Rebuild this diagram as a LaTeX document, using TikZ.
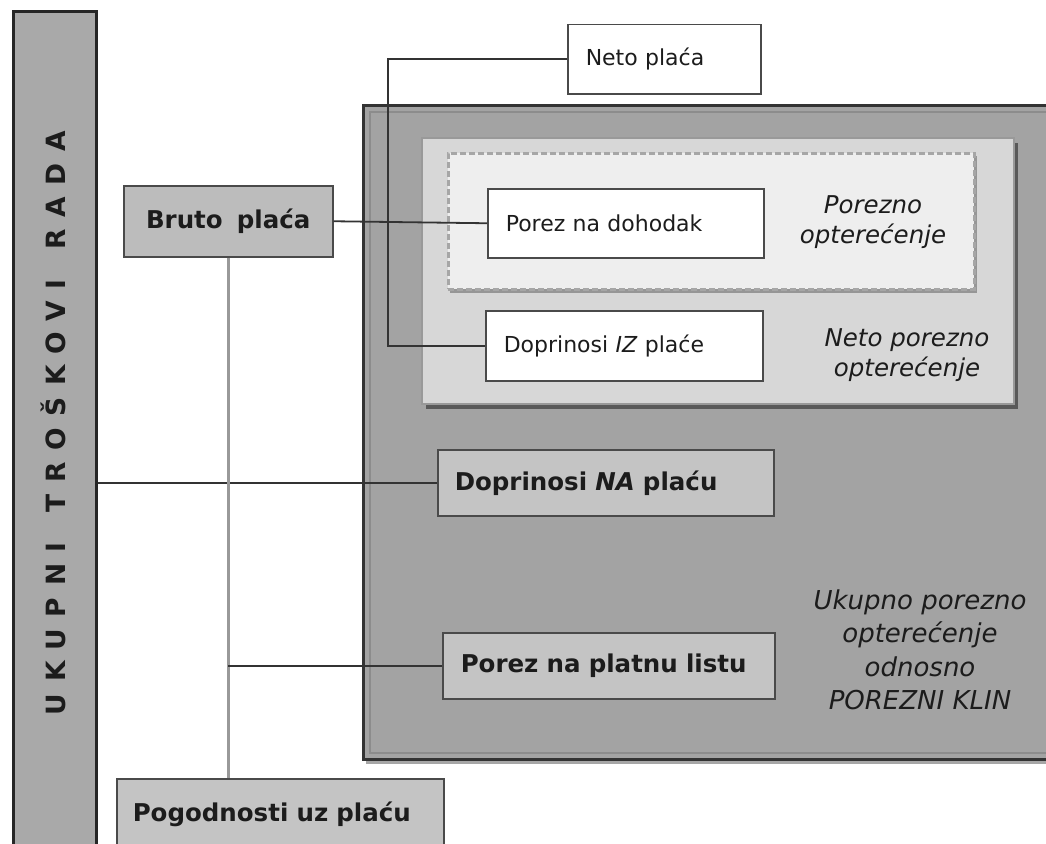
\documentclass[tikz,border=0pt]{standalone}
\usepackage{fontspec}
\setmainfont{DejaVu Sans}
\usetikzlibrary{calc}
\definecolor{barfill}{HTML}{A9A9A9}
\definecolor{bigfill}{HTML}{A3A3A3}
\definecolor{lightfill}{HTML}{D7D7D7}
\definecolor{dashfill}{HTML}{EEEEEE}
\definecolor{bfill}{HTML}{BCBCBC}
\definecolor{nafill}{HTML}{C4C4C4}
\definecolor{txt}{HTML}{1C1C1C}
\definecolor{edge}{HTML}{4A4A4A}
\newcommand\boldtxt{\fontsize{24.5}{29}\selectfont\bfseries}
\newcommand\regtxt{\fontsize{22}{26}\selectfont}
\newcommand\ittxt{\fontsize{24.5}{29.5}\selectfont\itshape}
\newcommand\ittxtb{\fontsize{26}{33.5}\selectfont\itshape}
\begin{document}
\begin{tikzpicture}[x=1pt,y=-1pt,
  box/.style={draw=edge, line width=1.5pt, anchor=north west, inner xsep=17pt, inner ysep=0pt, align=left, text=txt},
  wbox/.style={box, fill=white, font=\regtxt},
  gbox/.style={box, font=\boldtxt},
  shadow/.style={fill=black, opacity=0.35},
  conn/.style={draw=black!80, line width=1.8pt},
  lconn/.style={draw=black!40, line width=2.5pt},
  lbl/.style={text=txt, align=center}
]
\clip (0,0) rectangle (1046,843);
\fill[white] (0,0) rectangle (1046,843);

% left bar
\node[draw=black!85, line width=3pt, fill=barfill, minimum width=83, minimum height=860, anchor=north west, inner sep=0pt] (bar) at (12,10) {};
\node[rotate=90, text=txt, font=\fontsize{26.5}{30}\selectfont\bfseries\addfontfeature{LetterSpace=44}] (bartext) at (53,423) {UKUPNI\hspace{9pt} TROŠKOVI\hspace{9pt} RADA};

% big box
\fill[shadow] (366,110) rectangle (1070,764);
\node[draw=black!80, line width=3pt, fill=bigfill, minimum width=708, minimum height=654, anchor=north west, inner sep=0pt] (big) at (362,104) {};
\draw[draw=black!45, line width=1.5pt] ($(big.north west)+(8,8)$) rectangle ($(big.south east)+(-8,-8)$);

% light box
\fill[shadow, opacity=0.45] (426,143) rectangle (1018,409);
\node[draw=black!40, line width=1.5pt, fill=lightfill, minimum width=592, minimum height=266, anchor=north west, inner sep=0pt] (light) at (421,137) {};

% dashed box
\fill[shadow, opacity=0.3] (450,156) rectangle (977,293);
\node[draw=black!35, line width=2.8pt, dash pattern=on 6pt off 3pt, fill=dashfill, minimum width=526, minimum height=136, anchor=north west, inner sep=0pt] (dash) at (447,152) {};

% inner white boxes
\node[wbox, text width=240pt, minimum height=69pt, inner xsep=18pt] (pnd) at (487,188) {Porez na dohodak};
\node[wbox, text width=241pt, minimum height=70pt, inner xsep=18pt] (diz) at (485,310) {Doprinosi \textit{IZ} plaće};
\node[wbox, text width=157pt, minimum height=69pt, inner xsep=18pt] (neto) at (567,24) {Neto plaća};

% gray boxes
\node[gbox, fill=bfill, text width=209pt, inner xsep=0pt, align=center, minimum height=71pt] (bruto) at (123,185) {Bruto\hspace{6pt} plaća};
\node[gbox, fill=nafill, text width=302pt, minimum height=66pt] (dna) at (437,449) {Doprinosi \textit{NA} plaću};
\node[gbox, fill=nafill, text width=296pt, minimum height=66pt, inner xsep=18pt] (ppl) at (442,632) {Porez na platnu listu};
\node[gbox, fill=nafill, text width=295pt, minimum height=72pt, inner xsep=16pt] (pog) at (116,778) {Pogodnosti uz plaću};

% labels
\node[lbl, font=\ittxt] (lporezno) at (873,222) {Porezno\\opterećenje};
\node[lbl, font=\ittxt] (lneto) at (907,355) {Neto porezno\\opterećenje};
\node[lbl, font=\ittxtb] (lukupno) at (920,650) {Ukupno porezno\\opterećenje\\odnosno\\POREZNI KLIN};

% connectors
\coordinate (nbend) at (388,57);
\draw[conn] (neto.west) -- (neto.west -| nbend) |- (diz.west);
\draw[conn] (bruto.east) -- (pnd.west);
\draw[conn] (dna.west) -- (dna.west -| bar.east);
\coordinate (branch) at (bruto.south |- ppl.west);
\draw[lconn] (bruto.south) -- (pog.north -| bruto.south);
\draw[conn] (branch) -- (ppl.west);
\end{tikzpicture}
\end{document}
